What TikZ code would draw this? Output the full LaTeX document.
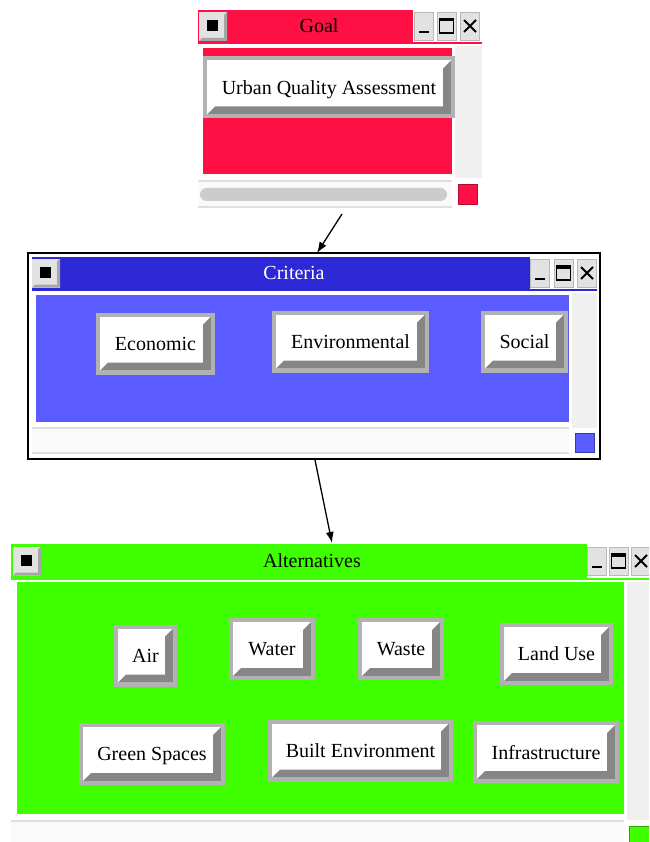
\documentclass[tikz,border=0pt]{standalone}
\usepackage{fontspec}
\setmainfont{Liberation Serif}
\usetikzlibrary{arrows.meta,calc}

\definecolor{goalred}{RGB}{255,16,68}
\definecolor{critbar}{RGB}{44,40,214}
\definecolor{critfill}{RGB}{90,92,255}
\definecolor{altgreen}{RGB}{64,255,0}
\definecolor{rimgray}{RGB}{178,178,178}
\definecolor{bevgray}{RGB}{134,134,134}
\definecolor{facegray}{RGB}{226,226,226}
\definecolor{trackgray}{RGB}{240,240,240}

\tikzset{
  btn/.style={draw=rimgray,line width=4pt,fill=white,minimum height=58pt,inner sep=2pt,
    text depth=0pt,
    path picture={
      \fill[bevgray] ($(path picture bounding box.north east)+(-2pt,-2pt)$)
        -- ($(path picture bounding box.south east)+(-2pt,2pt)$)
        -- ($(path picture bounding box.south west)+(2pt,2pt)$)
        -- ($(path picture bounding box.south west)+(10pt,10pt)$)
        -- ($(path picture bounding box.south east)+(-10pt,10pt)$)
        -- ($(path picture bounding box.north east)+(-10pt,-10pt)$) -- cycle;
    }},
  tbtn/.style={draw=gray!55,fill=facegray,line width=0.8pt,minimum width=19pt,
    minimum height=28pt,inner sep=0pt},
  tmin/.style={tbtn,path picture={
      \draw[black,line width=2.6pt] ([xshift=-5pt,yshift=-6pt]path picture bounding box.center)
        -- ++(10pt,0pt);}},
  tmax/.style={tbtn,path picture={
      \draw[black,line width=1.6pt] ([shift={(-7pt,-7pt)}]path picture bounding box.center)
        rectangle ++(14pt,14pt);
      \draw[black,line width=3pt] ([shift={(-7.5pt,6pt)}]path picture bounding box.center)
        -- ++(15pt,0pt);}},
  tclose/.style={tbtn,path picture={
      \draw[black,line width=2pt] ([shift={(-6pt,-6pt)}]path picture bounding box.center)
        -- ++(12pt,12pt);
      \draw[black,line width=2pt] ([shift={(-6pt,6pt)}]path picture bounding box.center)
        -- ++(12pt,-12pt);}},
  mbtn/.style={fill=facegray,minimum width=28pt,minimum height=29pt,inner sep=0pt,
    path picture={
      \fill[gray!70] (path picture bounding box.north east)
        -- (path picture bounding box.south east)
        -- (path picture bounding box.south west)
        -- ([shift={(3pt,3pt)}]path picture bounding box.south west)
        -- ([shift={(-3pt,3pt)}]path picture bounding box.south east)
        -- ([shift={(-3pt,-3pt)}]path picture bounding box.north east) -- cycle;
      \fill[black] ([shift={(-6pt,-5pt)}]path picture bounding box.center)
        rectangle ++(11pt,11pt);
    }},
  wtitle/.style={font=\fontsize{20}{24}\selectfont},
}

\begin{document}
\begin{tikzpicture}[x=1pt,y=-1pt,>={Latex[length=11pt,width=8pt]},
    font=\fontsize{20}{24}\selectfont]
  \useasboundingbox[fill=white] (0,0) rectangle (649,842);
  \clip (0,0) rectangle (649,842);

  % goal window
  \fill[goalred] (198,10) rectangle (413,42);
  \draw[goalred,line width=1.5pt] (198,43) -- (482,43);
  \node[mbtn] (goalmenu) at (213,26.5) {};
  \node[wtitle] (goaltitle) at (319,26) {Goal};
  \node[tmin] (goalmin) at (423.5,26) {};
  \node[tmax] (goalmax) at (446.5,26) {};
  \node[tclose] (goalclose) at (470,26) {};
  \fill[goalred] (203,48) rectangle (452,174);
  \fill[trackgray] (455,46) rectangle (482,178);
  \fill[gray!4] (198,181) rectangle (452,207);
  \draw[gray!25,line width=1.5pt] (198,181) -- (452,181);
  \draw[gray!25,line width=1.5pt] (198,207) -- (452,207);
  \fill[gray!40,rounded corners=6.5pt] (200,188) rectangle (447,201);
  \filldraw[fill=goalred,draw=goalred!70!black,line width=1pt] (458,185) rectangle (477,205);
  \node[btn,minimum width=248pt] (urban) at (329,87.5) {Urban Quality Assessment};

  % criteria window
  \draw[line width=1.6pt] (28,253) rectangle (600,459);
  \fill[critbar] (32,257) rectangle (530,289);
  \draw[critbar,line width=1.5pt] (32,290) -- (597,290);
  \node[mbtn] (critmenu) at (46,273) {};
  \node[wtitle,text=white] (crittitle) at (294,273) {Criteria};
  \node[tmin] (critmin) at (540,273) {};
  \node[tmax] (critmax) at (563.5,273) {};
  \node[tclose] (critclose) at (587,273) {};
  \fill[critfill] (36,295) rectangle (569,422);
  \fill[trackgray] (572,293) rectangle (597,428);
  \fill[gray!4] (32,428) rectangle (569,453);
  \draw[gray!25,line width=1.5pt] (32,428) -- (569,428);
  \draw[gray!25,line width=1.5pt] (32,453) -- (569,453);
  \filldraw[fill=critfill,draw=critfill!65!black,line width=1pt] (575,433) rectangle (594,452);
  \node[btn,minimum width=115pt] (economic) at (155.5,343.5) {Economic};
  \node[btn,minimum width=153pt] (environmental) at (350.5,341.5) {Environmental};
  \node[btn,minimum width=83pt] (social) at (524.5,341.5) {Social};

  % alternatives window
  \fill[altgreen] (11,544) rectangle (587,578);
  \draw[altgreen,line width=1.5pt] (11,579) -- (649,579);
  \node[mbtn] (altmenu) at (27,561) {};
  \node[wtitle] (alttitle) at (312,561) {Alternatives};
  \node[tmin] (altmin) at (596.5,561) {};
  \node[tmax] (altmax) at (618.5,561) {};
  \node[tclose] (altclose) at (641,561) {};
  \fill[altgreen] (17,582) rectangle (624,814);
  \fill[trackgray] (627,582) rectangle (649,820);
  \fill[gray!4] (11,821) rectangle (624,842);
  \draw[gray!25,line width=1.5pt] (11,821) -- (624,821);
  \filldraw[fill=altgreen,draw=altgreen!65!black,line width=1pt] (629,826) rectangle (652,845);
  \node[btn,minimum width=59pt] (air) at (145.5,655.5) {Air};
  \node[btn,minimum width=82pt] (water) at (272,649) {Water};
  \node[btn,minimum width=82pt] (waste) at (401,649) {Waste};
  \node[btn,minimum width=109pt] (landuse) at (556.5,654) {Land Use};
  \node[btn,minimum width=142pt] (greensp) at (152,754) {Green Spaces};
  \node[btn,minimum width=181pt] (builtenv) at (360.5,750.5) {Built Environment};
  \node[btn,minimum width=142pt] (infra) at (546,752) {Infrastructure};

  % links between the windows
  \coordinate (goalout) at (342,214);
  \coordinate (critin) at (317,253);
  \coordinate (critout) at (315,460);
  \coordinate (altin) at (332,543);
  \draw[->,line width=1.3pt] (goalout) -- (critin);
  \draw[->,line width=1.3pt] (critout) -- (altin);
\end{tikzpicture}
\end{document}
